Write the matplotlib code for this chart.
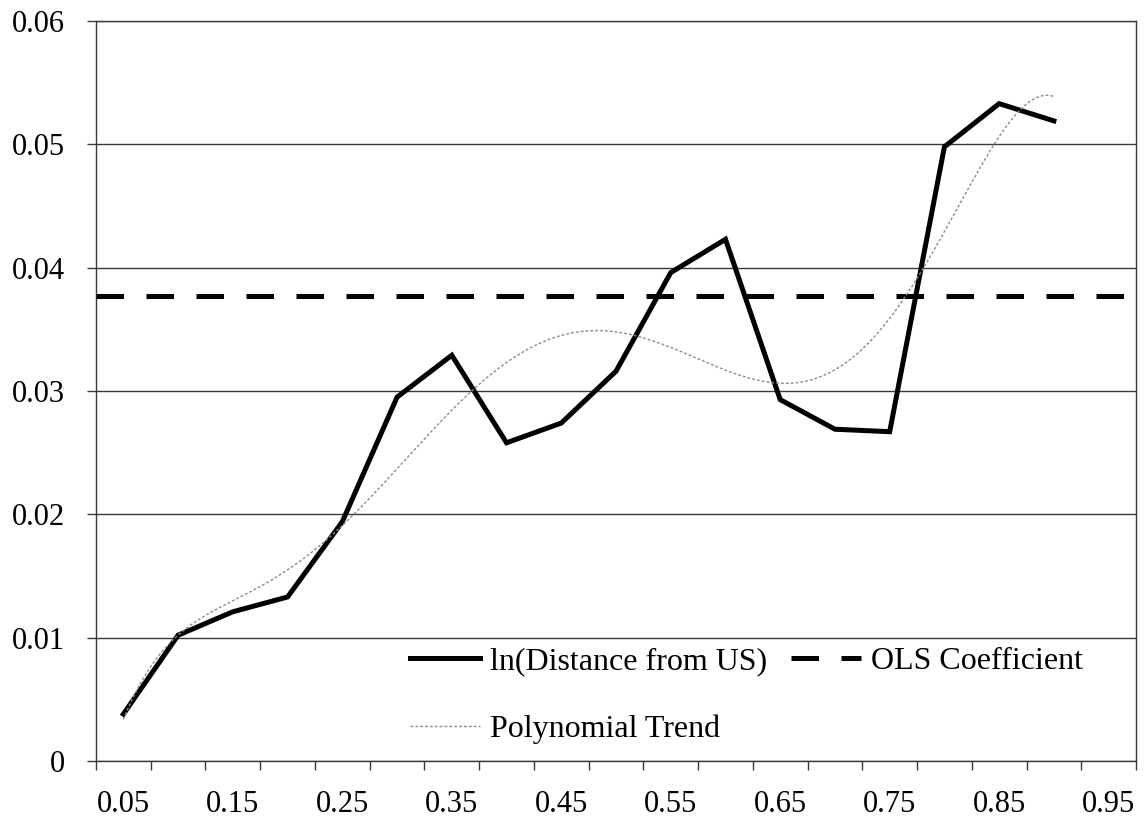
import numpy as np
import matplotlib
matplotlib.use("Agg")
import matplotlib.pyplot as plt
from matplotlib.ticker import FixedLocator

# ---- data ----
categories = ["0.05", "0.10", "0.15", "0.20", "0.25", "0.30", "0.35", "0.40", "0.45",
              "0.50", "0.55", "0.60", "0.65", "0.70", "0.75", "0.80", "0.85", "0.90", "0.95"]
distance_coef = [0.0038, 0.0102, 0.0121, 0.0133, 0.0194, 0.0295, 0.0329, 0.0258, 0.0274,
                 0.0316, 0.0396, 0.0423, 0.0293, 0.0269, 0.0267, 0.0498, 0.0533, 0.0519]
ols_coef = 0.0377
y_ticks = [0, 0.01, 0.02, 0.03, 0.04, 0.05, 0.06]
y_tick_labels = ["0", "0.01", "0.02", "0.03", "0.04", "0.05", "0.06"]
x_tick_labels = ["0.05", "0.15", "0.25", "0.35", "0.45", "0.55", "0.65", "0.75", "0.85", "0.95"]
trend_degree = 6

plt.rcParams['font.family'] = ['Liberation Serif', 'DejaVu Serif']

W, H = 1144, 824
fig = plt.figure(figsize=(W / 100, H / 100), dpi=100)
ax = fig.add_axes([96 / W, 1 - 761 / H, (1136 - 96) / W, (761 - 21) / H])

n = len(distance_coef)
xi = np.arange(n)

# polynomial trendline fitted to the data (as Excel does, x = 1..n)
xfit = np.arange(1, n + 1)
coefs = np.polyfit(xfit, distance_coef, trend_degree)
xs = np.linspace(1, n, 400)
ys = np.polyval(coefs, xs)

line_main, = ax.plot(xi, distance_coef, color='black', lw=3.6, solid_joinstyle='miter',
                     label='ln(Distance from US)', zorder=4)
line_ols = ax.axhline(ols_coef, color='black', lw=3.6, linestyle=(0, (5.5, 4.5)),
                      label='OLS Coefficient', zorder=3)
line_trend, = ax.plot(xs - 1, ys, color='#8a8a8a', lw=1.0, linestyle=(0, (2, 1.5)),
                      label='Polynomial Trend', zorder=5)

ax.set_xlim(-0.5, len(categories) - 0.5)
ax.set_ylim(0, 0.06)

# y axis
ax.yaxis.set_major_locator(FixedLocator(y_ticks))
ax.set_yticklabels(y_tick_labels)
ax.grid(axis='y', color='#3a3a3a', lw=1.0)
ax.set_axisbelow(True)

# x axis: labels every other category, tick marks at category boundaries
label_pos = [categories.index(c) for c in x_tick_labels]
ax.set_xticks(label_pos)
ax.set_xticklabels(x_tick_labels)
ax.set_xticks(np.arange(-0.5, len(categories)), minor=True)
ax.tick_params(axis='x', which='major', length=0, pad=21, labelsize=22)
ax.tick_params(axis='x', which='minor', length=6.5, width=1.0, direction='out', color='#3a3a3a')
ax.tick_params(axis='y', which='major', length=6.5, width=1.0, direction='out', pad=16,
               labelsize=22, color='#3a3a3a')

for s in ax.spines.values():
    s.set_color('#3a3a3a')
    s.set_linewidth(1.0)

leg = ax.legend(handles=[line_main, line_trend, line_ols], ncol=2,
                loc='upper left', bbox_to_anchor=(410 / W, 1 - 647 / H),
                bbox_transform=fig.transFigure, frameon=False, fontsize=23,
                handlelength=2.2, handletextpad=0.3, columnspacing=0.75,
                labelspacing=1.2, borderpad=0, borderaxespad=0)

fig.savefig('out.png', dpi=100, facecolor='white')
